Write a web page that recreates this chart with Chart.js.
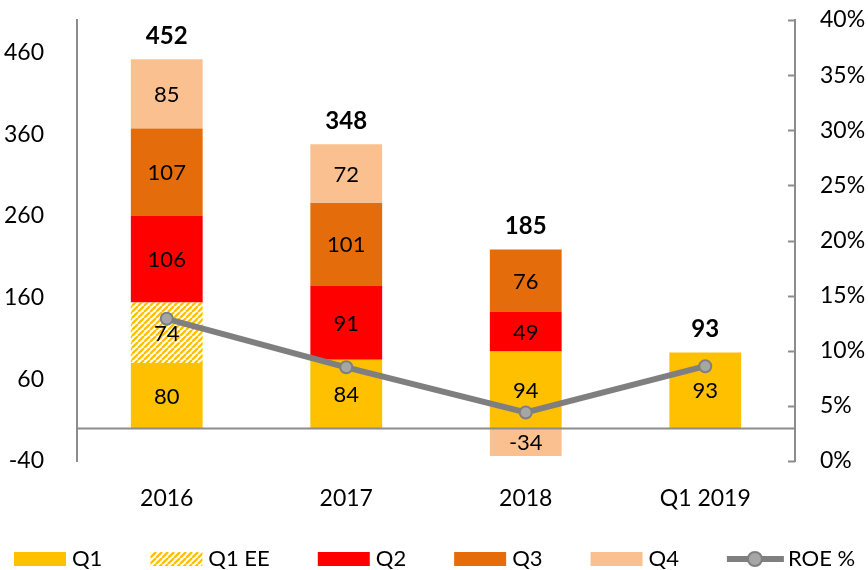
<!DOCTYPE html>
<html>
<head>
<meta charset="utf-8">
<script src="https://cdn.jsdelivr.net/npm/chart.js@4.4.1/dist/chart.umd.min.js"></script>
<style>
  html, body { margin: 0; padding: 0; background: #fff; }
</style>
</head>
<body>
<canvas id="grafica" width="868" height="570"></canvas>
<script>
const categorias = ['2016', '2017', '2018', 'Q1 2019'];
const q1 = [80, 84, 94, 93];
const q1ee = [74, 0, 0, 0];
const q2 = [106, 91, 49, 0];
const q3 = [107, 101, 76, 0];
const q4 = [85, 72, -34, 0];
const roe = [12.9, 8.5, 4.4, 8.6];
const ticksIzq = [-40, 60, 160, 260, 360, 460];

const gris = '#8c8c8c';
Chart.defaults.font.family = 'Lato';
Chart.defaults.color = '#000';

// trama rayada para Q1 EE
function crearTrama() {
    const c = document.createElement('canvas');
    c.width = 6;
    c.height = 6;
    const g = c.getContext('2d');
    g.fillStyle = '#fff';
    g.fillRect(0, 0, 6, 6);
    g.strokeStyle = '#FFC000';
    g.lineWidth = 2.3;
    g.beginPath();
    for (const k of [-6, 0, 6]) {
        g.moveTo(k, 6);
        g.lineTo(k + 6, 0);
    }
    g.stroke();
    return g.createPattern(c, 'repeat');
}
const trama = crearTrama();

function sinRelleno(s) {
    s.paddingTop = 0;
    s.paddingBottom = 0;
}

const extras = {
    id: 'extras',
    afterDatasetsDraw(chart) {
        const ctx = chart.ctx;
        const area = chart.chartArea;
        const y = chart.scales.y;
        const y1 = chart.scales.y1;
        ctx.save();
        // linea del cero
        const y0 = Math.round(y.getPixelForValue(0)) + 0.5;
        ctx.strokeStyle = gris;
        ctx.lineWidth = 2;
        ctx.beginPath();
        ctx.moveTo(area.left, y0);
        ctx.lineTo(area.right, y0);
        ctx.stroke();
        // marcas del eje derecho, hacia dentro
        y1.ticks.forEach(t => {
            const py = Math.round(y1.getPixelForValue(t.value)) + 0.5;
            ctx.beginPath();
            ctx.moveTo(area.right - 7, py);
            ctx.lineTo(area.right, py);
            ctx.stroke();
        });
        // etiquetas de cada tramo
        ctx.fillStyle = '#000';
        ctx.textAlign = 'center';
        ctx.textBaseline = 'middle';
        ctx.font = '22px Lato';
        chart.data.datasets.forEach((ds, i) => {
            if (ds.type === 'line') return;
            const meta = chart.getDatasetMeta(i);
            meta.data.forEach((el, j) => {
                const v = ds.data[j];
                if (!v) return;
                ctx.fillText(String(v), el.x, (el.y + el.base) / 2 + 1);
            });
        });
        // totales
        ctx.font = 'bold 24px Lato';
        ctx.textBaseline = 'alphabetic';
        const meta0 = chart.getDatasetMeta(0);
        categorias.forEach((c, j) => {
            const vals = [q1[j], q1ee[j], q2[j], q3[j], q4[j]];
            const total = vals.reduce((a, b) => a + b, 0);
            const cima = vals.filter(v => v > 0).reduce((a, b) => a + b, 0);
            ctx.fillText(String(total), meta0.data[j].x, y.getPixelForValue(cima) - 15);
        });
        ctx.restore();
    },
    afterDraw(chart) {
        // leyenda
        const ctx = chart.ctx;
        ctx.save();
        ctx.font = '22px Lato';
        ctx.textBaseline = 'middle';
        ctx.textAlign = 'left';
        let x = 14;
        const yl = 559;
        chart.data.datasets.forEach(ds => {
            if (ds.type === 'line') {
                ctx.strokeStyle = ds.borderColor;
                ctx.lineWidth = 6;
                ctx.beginPath();
                ctx.moveTo(x, yl);
                ctx.lineTo(x + 57, yl);
                ctx.stroke();
                ctx.beginPath();
                ctx.arc(x + 28, yl, 7, 0, Math.PI * 2);
                ctx.fillStyle = ds.pointBackgroundColor;
                ctx.fill();
                ctx.lineWidth = 2;
                ctx.strokeStyle = ds.pointBorderColor;
                ctx.stroke();
                x += 61;
            } else {
                ctx.fillStyle = ds.backgroundColor;
                ctx.fillRect(x, yl - 7, 52, 14);
                x += 58;
            }
            ctx.fillStyle = '#000';
            ctx.fillText(ds.label, x, yl);
            x += ctx.measureText(ds.label).width + 48;
        });
        ctx.restore();
    }
};

new Chart(document.getElementById('grafica'), {
    data: {
        labels: categorias,
        datasets: [
            { type: 'bar', label: 'Q1', data: q1, backgroundColor: '#FFC000', stack: 'a' },
            { type: 'bar', label: 'Q1 EE', data: q1ee, backgroundColor: trama, stack: 'a' },
            { type: 'bar', label: 'Q2', data: q2, backgroundColor: '#FF0000', stack: 'a' },
            { type: 'bar', label: 'Q3', data: q3, backgroundColor: '#E46C0A', stack: 'a' },
            { type: 'bar', label: 'Q4', data: q4, backgroundColor: '#FAC090', stack: 'a' },
            {
                type: 'line', label: 'ROE %', data: roe, yAxisID: 'y1', order: -1,
                borderColor: '#7f7f7f', borderWidth: 6, tension: 0,
                pointRadius: 6, pointBorderWidth: 2,
                pointBackgroundColor: '#a6a6a6', pointBorderColor: '#7f7f7f'
            }
        ]
    },
    options: {
        responsive: false,
        animation: false,
        layout: { padding: { top: 20, left: 0, right: 0, bottom: 0 } },
        datasets: { bar: { barPercentage: 0.4, categoryPercentage: 1 } },
        plugins: { legend: { display: false }, tooltip: { enabled: false } },
        scales: {
            x: {
                stacked: true,
                grid: { display: false },
                border: { display: false },
                ticks: { font: { size: 23 }, padding: 16 },
                afterFit(s) { s.height = 109; }
            },
            y: {
                stacked: true,
                position: 'left',
                min: -40,
                max: 500,
                grid: { display: false },
                border: { color: gris, width: 2 },
                ticks: { font: { size: 23 }, padding: 25 },
                afterBuildTicks(s) { s.ticks = ticksIzq.map(v => ({ value: v })); },
                afterFit(s) { s.width = 77; sinRelleno(s); }
            },
            y1: {
                position: 'right',
                min: 0,
                max: 40,
                grid: { display: false },
                border: { color: gris, width: 2 },
                ticks: { stepSize: 5, font: { size: 23 }, padding: 17, callback: v => v + '%' },
                afterFit(s) { s.width = 73; sinRelleno(s); }
            }
        }
    },
    plugins: [extras]
});
</script>
</body>
</html>
